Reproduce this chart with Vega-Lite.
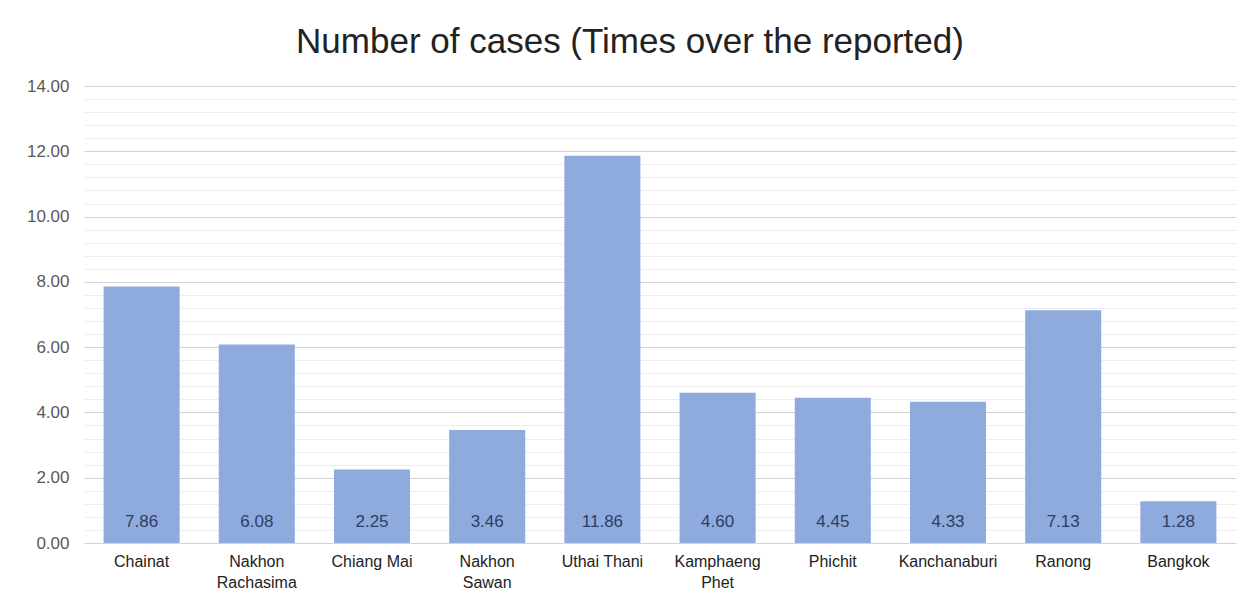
{
  "$schema": "https://vega.github.io/schema/vega-lite/v6.json",
  "autosize": "none",
  "width": 1152,
  "height": 457,
  "padding": {"left": 84, "top": 86, "right": 14, "bottom": 56},
  "background": "white",
  "title": {
    "text": "Number of cases (Times over the reported)",
    "font": "Liberation Sans",
    "fontSize": 35,
    "fontWeight": "normal",
    "color": "#222222",
    "anchor": "middle",
    "dx": -30,
    "offset": 17
  },
  "data": {
    "values": [
      {"province": "Chainat", "times": 7.86},
      {"province": "Nakhon Rachasima", "times": 6.08},
      {"province": "Chiang Mai", "times": 2.25},
      {"province": "Nakhon Sawan", "times": 3.46},
      {"province": "Uthai Thani", "times": 11.86},
      {"province": "Kamphaeng Phet", "times": 4.60},
      {"province": "Phichit", "times": 4.45},
      {"province": "Kanchanaburi", "times": 4.33},
      {"province": "Ranong", "times": 7.13},
      {"province": "Bangkok", "times": 1.28}
    ]
  },
  "config": {
    "view": {"stroke": null},
    "font": "Liberation Sans"
  },
  "encoding": {
    "x": {
      "field": "province",
      "type": "nominal",
      "sort": null,
      "scale": {"paddingInner": 0.34, "paddingOuter": 0.17},
      "axis": {
        "title": null,
        "labelAngle": 0,
        "ticks": false,
        "domain": false,
        "labelPadding": 10,
        "labelFontSize": 16,
        "labelColor": "#222222",
        "labelLineHeight": 21,
        "labelExpr": "indexof(datum.label, ' ') > 0 && length(datum.label) > 11 ? split(datum.label, ' ') : datum.label"
      }
    }
  },
  "layer": [
    {
      "mark": {"type": "bar", "color": "#8FAADC"},
      "encoding": {
        "y": {
          "field": "times",
          "type": "quantitative",
          "scale": {"domain": [0, 14], "nice": false},
          "axis": {
            "title": null,
            "tickCount": 100,
            "values": [0, 0.4, 0.8, 1.2, 1.6, 2, 2.4, 2.8, 3.2, 3.6, 4, 4.4, 4.8, 5.2, 5.6, 6, 6.4, 6.8, 7.2, 7.6, 8, 8.4, 8.8, 9.2, 9.6, 10, 10.4, 10.8, 11.2, 11.6, 12, 12.4, 12.8, 13.2, 13.6, 14],
            "labelExpr": "abs(datum.value - round(datum.value / 2) * 2) < 0.01 ? format(datum.value, '.2f') : ''",
            "labelOverlap": false,
            "ticks": false,
            "domain": false,
            "labelPadding": 15,
            "labelFontSize": 17,
            "labelColor": "#595959",
            "gridColor": {
              "condition": {"test": "abs(datum.value - round(datum.value / 2) * 2) < 0.01", "value": "#D4D4D4"},
              "value": "#EDEDED"
            },
            "gridWidth": 1
          }
        }
      }
    },
    {
      "mark": {"type": "text", "baseline": "bottom", "dy": -12, "fontSize": 17, "color": "#2F3E64"},
      "encoding": {
        "y": {"datum": 0, "type": "quantitative"},
        "text": {"field": "times", "type": "quantitative", "format": ".2f"}
      }
    }
  ]
}
